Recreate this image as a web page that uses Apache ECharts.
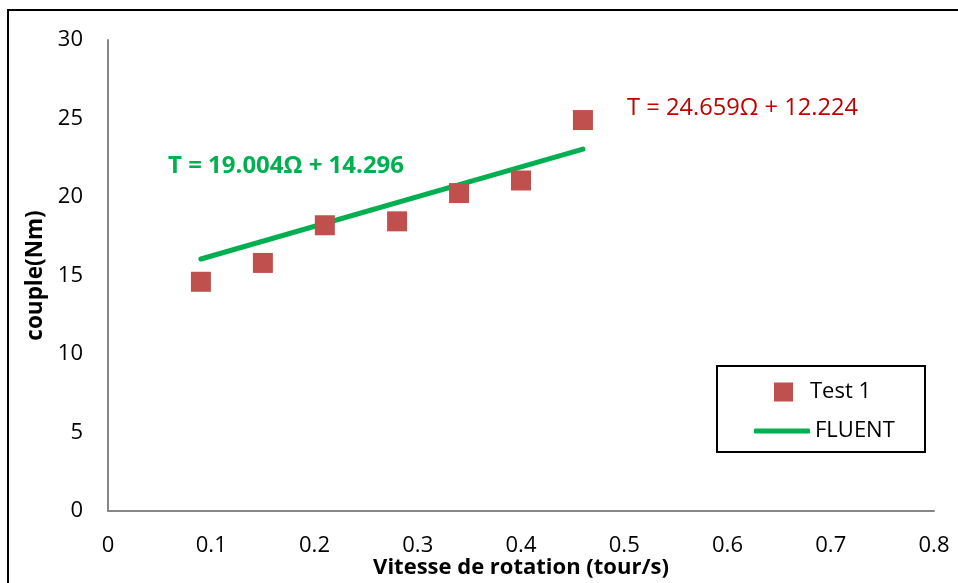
<!DOCTYPE html>
<html>
<head>
<meta charset="utf-8">
<script src="https://cdn.jsdelivr.net/npm/echarts@6/dist/echarts.min.js"></script>
<style>
html,body{margin:0;padding:0;background:#fff;}
#c{width:958px;height:583px;}
</style>
</head>
<body>
<div id="c"></div>
<script>
// Data
const testX = [0.09, 0.15, 0.21, 0.28, 0.34, 0.40, 0.46];
const testY = [14.6, 15.8, 18.2, 18.45, 20.25, 21.05, 24.9];
const fluentX = [0.09, 0.46];
const fluentY = [16.05, 23.05];
const xTicks = [0, 0.1, 0.2, 0.3, 0.4, 0.5, 0.6, 0.7, 0.8];
const yTicks = [0, 5, 10, 15, 20, 25, 30];
const seriesNames = ['Test 1', 'FLUENT'];
const eqFluent = 'T = 19.004\u03A9 + 14.296';
const eqTest = 'T = 24.659\u03A9 + 12.224';
const xTitle = 'Vitesse de rotation (tour/s)';
const yTitle = 'couple(Nm)';

const FONT = '"Open Sans", Lato, sans-serif';
const chart = echarts.init(document.getElementById('c'), null, {renderer: 'canvas'});
chart.setOption({
  backgroundColor: '#fff',
  animation: false,
  grid: {left: 108, right: 24, top: 40, bottom: 72, containLabel: false, outerBoundsMode: 'none'},
  xAxis: {
    type: 'value', min: xTicks[0], max: xTicks[xTicks.length - 1], interval: 0.1,
    axisLine: {show: true, lineStyle: {color: '#868686', width: 2}},
    axisTick: {show: false},
    splitLine: {show: false},
    axisLabel: {color: '#000', fontSize: 22, fontFamily: FONT, margin: 24,
      formatter: v => String(+v.toFixed(1))},
    name: xTitle, nameLocation: 'middle', nameGap: 46, nameMoveOverlap: false,
    nameTextStyle: {color: '#000', fontSize: 22, fontWeight: 'bold', fontFamily: FONT}
  },
  yAxis: {
    type: 'value', min: yTicks[0], max: yTicks[yTicks.length - 1], interval: 5,
    axisLine: {show: true, lineStyle: {color: '#868686', width: 2}},
    axisTick: {show: false},
    splitLine: {show: false},
    axisLabel: {color: '#000', fontSize: 22, fontFamily: FONT, margin: 25},
    name: yTitle, nameLocation: 'middle', nameGap: 60,
    nameTextStyle: {color: '#000', fontSize: 22.5, fontWeight: 'bold', fontFamily: FONT}
  },
  legend: [
    {
      data: [{name: seriesNames[0], icon: 'rect'}],
      left: 769, top: 376, itemWidth: 19, itemHeight: 19,
      textStyle: {color: '#000', fontSize: 22, fontFamily: FONT, padding: [0, 0, 0, 12]}
    },
    {
      data: [{name: seriesNames[1], icon: 'roundRect'}],
      left: 749, top: 415, itemWidth: 56, itemHeight: 5,
      textStyle: {color: '#000', fontSize: 22, fontFamily: FONT}
    }
  ],
  graphic: [
    {type: 'rect', shape: {x: 8, y: 10, width: 1200, height: 1000},
      style: {fill: 'none', stroke: '#000', lineWidth: 2}, silent: true, z: 100},
    {type: 'rect', shape: {x: 717, y: 366, width: 208, height: 86},
      style: {fill: '#fff', stroke: '#000', lineWidth: 2}, silent: true, z: 0},
    {type: 'text', x: 168, y: 166, z: 50,
      style: {text: eqFluent, fill: '#00B050', font: 'bold 24px ' + FONT, verticalAlign: 'middle'}},
    {type: 'text', x: 627, y: 108, z: 50,
      style: {text: eqTest, fill: '#C00000', font: '23.7px ' + FONT, verticalAlign: 'middle'}}
  ],
  series: [
    {
      name: seriesNames[0], type: 'scatter', symbol: 'rect', symbolSize: 20,
      itemStyle: {color: '#C0504D', opacity: 1}, z: 3,
      data: testX.map((x, i) => [x, testY[i]])
    },
    {
      name: seriesNames[1], type: 'line', symbol: 'none', showSymbol: false,
      lineStyle: {color: '#00B050', width: 5, cap: 'round'}, itemStyle: {color: '#00B050'}, z: 2,
      data: fluentX.map((x, i) => [x, fluentY[i]])
    }
  ]
});
</script>
</body>
</html>
